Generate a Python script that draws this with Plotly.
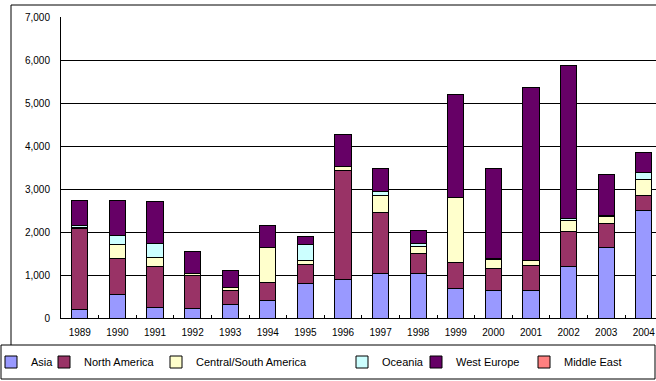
import plotly.graph_objects as go

years = ["1989", "1990", "1991", "1992", "1993", "1994", "1995", "1996",
         "1997", "1998", "1999", "2000", "2001", "2002", "2003", "2004"]
asia = [190, 540, 240, 210, 310, 400, 810, 890, 1030, 1030, 680, 650, 640, 1190, 1640, 2490]
north_america = [1880, 840, 950, 790, 330, 420, 440, 2540, 1430, 460, 610, 490, 580, 820, 550, 360]
central_south_america = [25, 325, 220, 25, 60, 820, 80, 90, 395, 165, 1520, 230, 115, 265, 165, 360]
oceania = [45, 215, 325, 20, 20, 10, 390, 0, 85, 70, 0, 10, 0, 30, 20, 185]
west_europe = [595, 815, 965, 500, 375, 490, 175, 740, 535, 310, 2395, 2100, 4015, 3560, 965, 465]
middle_east = [0, 0, 0, 0, 0, 0, 0, 0, 0, 0, 0, 0, 0, 0, 0, 0]

series = [
    ("Asia", asia, "#9999FF"),
    ("North America", north_america, "#993366"),
    ("Central/South America", central_south_america, "#FFFFCC"),
    ("Oceania", oceania, "#CCFFFF"),
    ("West Europe", west_europe, "#660066"),
    ("Middle East", middle_east, "#FF8080"),
]
# text start x-pixel of each legend entry
legend_text_x = [32, 85, 197, 383, 457, 565]

W, H = 656, 381
L, R, T, B = 61, 0, 17, 63
PW, PH = W - L - R, H - T - B


def px_x(px):
    return (px - L) / PW


def px_y(py):
    return (H - B - py) / PH


fig = go.Figure()
legend_keys = []
for i, (name, vals, col) in enumerate(series):
    key = "legend" if i == 0 else f"legend{i+1}"
    legend_keys.append(key)
    fig.add_trace(go.Bar(
        x=years, y=vals, name=name, legend=key,
        marker=dict(color=col, line=dict(color="#000000", width=1)),
        width=0.43,
    ))

font = dict(family="Liberation Sans, Arial, sans-serif", size=10, color="#000000")

legends = {}
for key, tx in zip(legend_keys, legend_text_x):
    legends[key] = dict(
        xref="paper", yref="container",
        x=px_x(tx - 41), y=1 - 362 / H,
        xanchor="left", yanchor="middle",
        orientation="h", bgcolor="rgba(0,0,0,0)", borderwidth=0,
        font=dict(family="Liberation Sans, Arial, sans-serif", size=11, color="#000000"),
        itemwidth=30,
    )

shapes = [
    # outer chart frame (top and left)
    dict(type="line", xref="paper", yref="paper", x0=px_x(11), x1=px_x(660),
         y0=px_y(5), y1=px_y(5), line=dict(color="#000000", width=1)),
    dict(type="line", xref="paper", yref="paper", x0=px_x(11), x1=px_x(11),
         y0=px_y(5), y1=px_y(345), line=dict(color="#000000", width=1)),
    # legend box
    dict(type="rect", xref="paper", yref="paper", x0=px_x(1), x1=px_x(655),
         y0=px_y(345), y1=px_y(379), line=dict(color="#000000", width=1)),
]

fig.update_layout(
    width=W, height=H,
    margin=dict(l=L, r=R, t=T, b=B, pad=0, autoexpand=False),
    barmode="stack",
    paper_bgcolor="#FFFFFF", plot_bgcolor="#FFFFFF",
    font=font,
    showlegend=True,
    shapes=shapes,
    **legends,
    xaxis=dict(
        type="category", range=[-0.5, -0.5 + PW / 37.6],
        showline=True, linecolor="#000000", linewidth=1,
        ticks="inside", ticklen=3, tickcolor="#000000", tickson="boundaries",
        showgrid=False, tickfont=font, ticklabelstandoff=5, automargin=False,
    ),
    yaxis=dict(
        range=[0, 7000], dtick=1000, tickformat=",d",
        showline=True, linecolor="#000000", linewidth=1,
        showgrid=True, gridcolor="#000000", gridwidth=1,
        zeroline=False, ticks="", tickfont=font, ticklabelstandoff=8, automargin=False,
    ),
)

fig.write_html(
    "out.html",
    config={"displayModeBar": False},
    post_script="document.body.style.margin='0';document.body.style.padding='0';",
)
